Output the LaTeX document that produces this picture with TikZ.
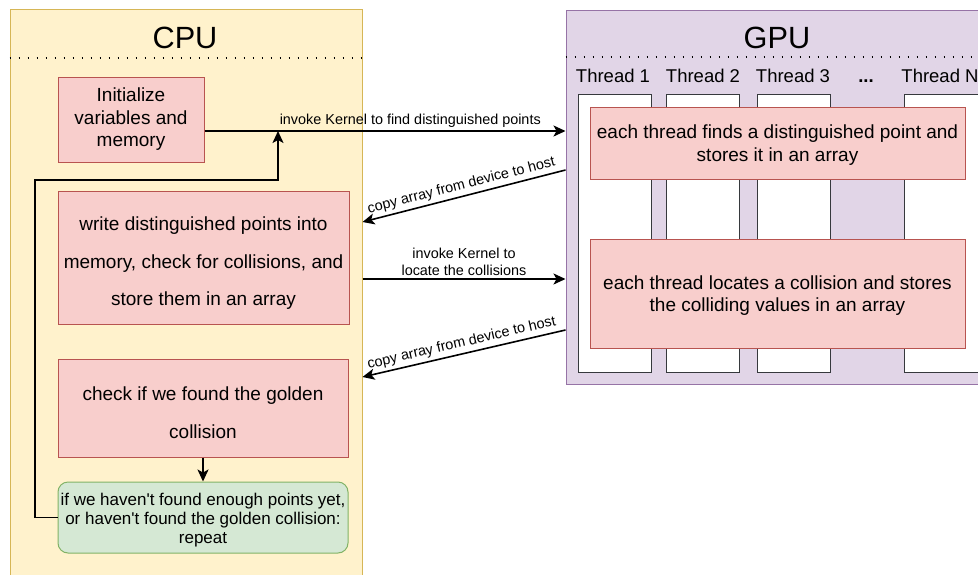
\documentclass[tikz,border=0pt]{standalone}
\usepackage{fontspec}
\setmainfont{Liberation Sans}[Ligatures=TeXOff]
\usetikzlibrary{arrows.meta}

\definecolor{cpufill}{HTML}{FFF2CC}
\definecolor{cpuline}{HTML}{D6B656}
\definecolor{gpufill}{HTML}{E1D5E7}
\definecolor{gpuline}{HTML}{9673A6}
\definecolor{redfill}{HTML}{F8CECC}
\definecolor{redline}{HTML}{B85450}
\definecolor{greenfill}{HTML}{D5E8D4}
\definecolor{greenline}{HTML}{82B366}
\definecolor{colline}{HTML}{36393D}

\begin{document}
\begin{tikzpicture}[x=1pt,y=-1pt,
  container/.style={line width=1pt, inner sep=0pt},
  title/.style={font=\fontsize{30.7}{34}\selectfont, inner sep=0pt},
  sep/.style={line width=1.6pt, dash pattern=on 1.6pt off 7.4pt},
  redbox/.style={draw=redline, fill=redfill, line width=1pt, align=center,
    inner sep=0pt, font=\fontsize{19}{22.5}\selectfont},
  greenbox/.style={draw=greenline, fill=greenfill, line width=1pt,
    inner sep=0pt, rounded corners=10pt},
  boxtext/.style={align=center, inner sep=0pt, font=\fontsize{19}{22.5}\selectfont},
  threadcol/.style={draw=colline, fill=white, line width=1pt, inner sep=0pt,
    minimum width=73pt, minimum height=278pt},
  threadlbl/.style={font=\fontsize{18.5}{20}\selectfont, inner sep=0pt, anchor=base},
  arr/.style={-{Stealth[length=12pt,width=11pt,inset=3pt]}, line width=1.6pt},
  elabel/.style={font=\fontsize{14.4}{16.5}\selectfont, align=center, inner sep=3pt}
]
\useasboundingbox (0,0) rectangle (978,574);
\clip (0,0) rectangle (978,574);

% host side
\node[container, draw=cpuline, fill=cpufill, minimum width=352pt, minimum height=581pt]
  (cpu) at (186,299.5) {};
\node[title] (cputitle) at (185,38) {CPU};
\draw[sep] (cpu.west |- 0,58) -- (cpu.east |- 0,58);

% device side
\node[container, draw=gpuline, fill=gpufill, minimum width=424pt, minimum height=374pt]
  (gpu) at (778,197) {};
\node[title] (gputitle) at (777,38) {GPU};
\draw[sep] (gpu.west |- 0,57) -- (gpu.east |- 0,57);

% thread columns
\node[threadcol] (t1) at (614.5,233) {};
\node[threadcol] (t2) at (702.5,233) {};
\node[threadcol] (t3) at (793.5,233) {};
\node[threadcol, minimum width=76pt] (tn) at (942,233) {};
\node[threadlbl] (l1) at (613,82) {Thread 1};
\node[threadlbl] (l2) at (703,82) {Thread 2};
\node[threadlbl] (l3) at (793,82) {Thread 3};
\node[threadlbl] (ld) at (866,82) {\textbf{...}};
\node[threadlbl] (ln) at (940,82) {Thread N};

% kernels
\node[redbox, minimum width=375pt, minimum height=72pt] (k1) at (777.5,143) {};
\node[boxtext] (k1txt) at (777.5,145)
  {each thread finds a distinguished point and\\stores it in an array};
\node[redbox, minimum width=375pt, minimum height=109pt] (k2) at (777.5,293.5) {};
\node[boxtext] (k2txt) at (777.5,295.5)
  {each thread locates a collision and stores\\the colliding values in an array};

% host steps
\node[redbox, minimum width=146pt, minimum height=85pt] (init) at (131,119.5)
  {Initialize\\variables and\\memory};
\node[redbox, minimum width=291pt, minimum height=133pt] (write) at (203.5,257.5) {};
\node[boxtext, font=\fontsize{19}{37.5}\selectfont] (writetxt) at (203.5,263.5)
  {write distinguished points into\\memory, check for collisions, and\\store them in an array};
\node[redbox, minimum width=290pt, minimum height=98pt] (check) at (203,408) {};
\node[boxtext, font=\fontsize{19}{38}\selectfont] (checktxt) at (203,413)
  {check if we found the golden\\collision};
\node[greenbox, minimum width=290pt, minimum height=71pt] (again) at (203,517.5) {};
\node[boxtext, font=\fontsize{17}{19}\selectfont] (againtxt) at (203,520.5)
  {if we haven't found enough points yet,\\or haven't found the golden collision:\\repeat};

% transfers between host and device
\draw[arr] (init.east |- 0,131) -- (gpu.west |- 0,131)
  node[elabel, pos=0.57, above] (e1) {invoke Kernel to find distinguished points};
\draw[arr] (gpu.west |- 0,170) -- (cpu.east |- 0,222)
  node[elabel, midway, above, sloped] (e2) {copy array from device to host};
\draw[arr] (cpu.east |- 0,279) -- (gpu.west |- 0,279)
  node[elabel, midway, above] (e3) {invoke Kernel to\\locate the collisions};
\draw[arr] (gpu.west |- 0,330) -- (cpu.east |- 0,377)
  node[elabel, midway, above, sloped] (e4) {copy array from device to host};

% control flow on the host
\coordinate (loopa) at (35,180);
\coordinate (loopb) at (278,131);
\draw[arr] (check.south) -- (again.north);
\draw[arr] (again.west) -| (loopa) -| (loopb);
\end{tikzpicture}
\end{document}
